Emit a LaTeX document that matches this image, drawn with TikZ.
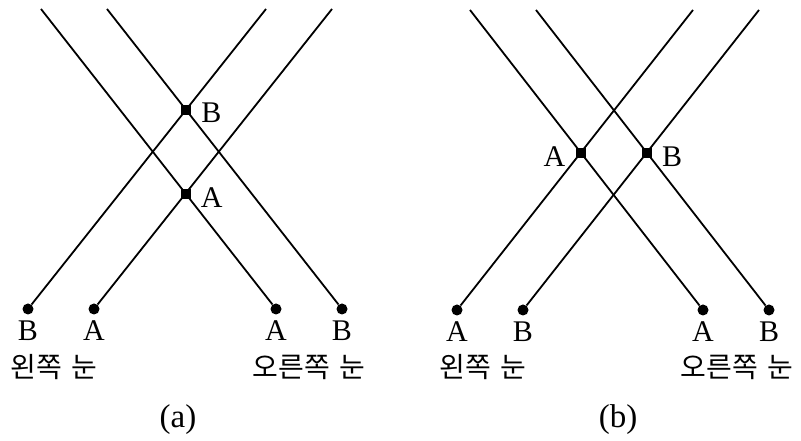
\documentclass[tikz,border=0pt]{standalone}
\usepackage{fontspec}
\setmainfont{Liberation Serif}
\newfontfamily\korfont{Noto Sans CJK KR}
\usepackage{tikz}

\begin{document}
\begin{tikzpicture}[
        x=1pt, y=1pt,
        eye/.style={circle, fill, inner sep=0pt, minimum size=11pt},
        cross/.style={rectangle, fill, inner sep=0pt, minimum size=10pt},
        ray/.style={line width=1.8pt},
        lbl/.style={font=\fontsize{30}{34}\selectfont, inner sep=1pt},
        kor/.style={font=\korfont\fontsize{28}{32}\selectfont, inner sep=0pt},
        caption/.style={font=\fontsize{33}{36}\selectfont, inner sep=0pt}
    ]

        \useasboundingbox (0,0) rectangle (801,441);

        \node[eye, label={[lbl, label distance=5pt]below:B}] (aLB) at (28,132) {};
        \node[eye, label={[lbl, label distance=5pt]below:A}] (aLA) at (94,132) {};
        \node[eye, label={[lbl, label distance=5pt]below:A}] (aRA) at (276,132) {};
        \node[eye, label={[lbl, label distance=5pt]below:B}] (aRB) at (342,132) {};
        \coordinate (aLBtop) at (266,432);
        \coordinate (aLAtop) at (332,432);
        \coordinate (aRAtop) at (41,432);
        \coordinate (aRBtop) at (107,432);

        \draw[ray] (aLB) -- (aLBtop);
        \draw[ray] (aLA) -- (aLAtop);
        \draw[ray] (aRA) -- (aRAtop);
        \draw[ray] (aRB) -- (aRBtop);

        \node[cross, label={[lbl, label distance=9pt, yshift=-3pt]right:B}] (aB) at (intersection of aLB--aLBtop and aRB--aRBtop) {};
        \node[cross, label={[lbl, label distance=9pt, yshift=-4pt]right:A}] (aA) at (intersection of aLA--aLAtop and aRA--aRAtop) {};

        \node[kor] (aLeft) at (54,74) {왼쪽\hspace{0.35em}눈};
        \node[kor] (aRight) at (309,74) {오른쪽\hspace{0.35em}눈};
        \node[caption] (aCap) at (178,21) {(a)};

        \node[eye, label={[lbl, label distance=5pt]below:A}] (bLA) at (457,131) {};
        \node[eye, label={[lbl, label distance=5pt]below:B}] (bLB) at (523,131) {};
        \node[eye, label={[lbl, label distance=5pt]below:A}] (bRA) at (703,131) {};
        \node[eye, label={[lbl, label distance=5pt]below:B}] (bRB) at (769,131) {};
        \coordinate (bLAtop) at (693,431);
        \coordinate (bLBtop) at (759,431);
        \coordinate (bRAtop) at (470,431);
        \coordinate (bRBtop) at (536,431);

        \draw[ray] (bLA) -- (bLAtop);
        \draw[ray] (bLB) -- (bLBtop);
        \draw[ray] (bRA) -- (bRAtop);
        \draw[ray] (bRB) -- (bRBtop);

        \node[cross, label={[lbl, label distance=9pt, yshift=-4pt]left:A}] (bA) at (intersection of bLA--bLAtop and bRA--bRAtop) {};
        \node[cross, label={[lbl, label distance=9pt, yshift=-4pt]right:B}] (bB) at (intersection of bLB--bLBtop and bRB--bRBtop) {};

        \node[kor] (bLeft) at (483,74) {왼쪽\hspace{0.35em}눈};
        \node[kor] (bRight) at (737,74) {오른쪽\hspace{0.35em}눈};
        \node[caption] (bCap) at (618,21) {(b)};

    \end{tikzpicture}
\end{document}
